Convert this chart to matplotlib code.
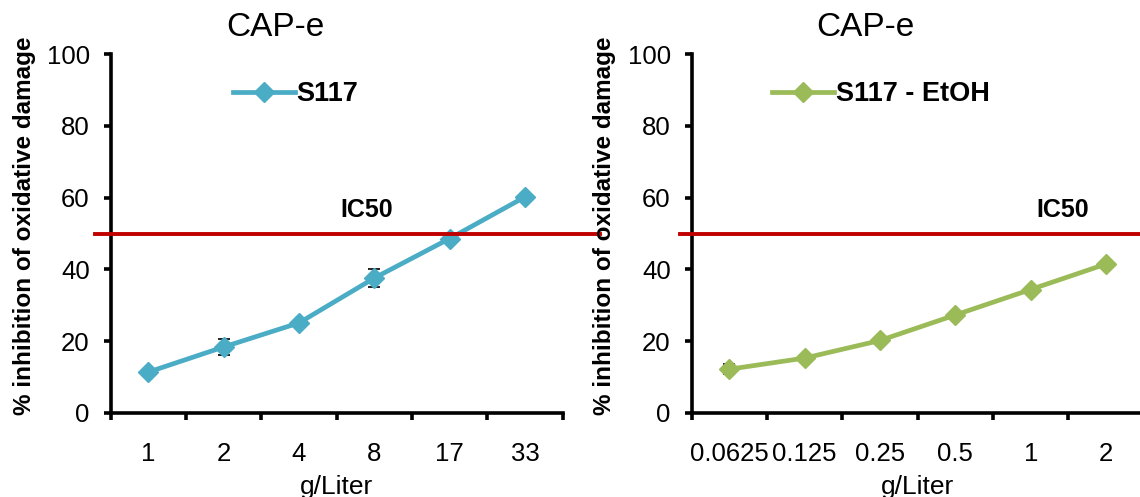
import numpy as np
import matplotlib.pyplot as plt

plt.rcParams["font.family"] = ["Liberation Sans", "DejaVu Sans"]

# data
left_labels = ["1", "2", "4", "8", "17", "33"]
left_values = [11.4, 18.4, 25.1, 37.6, 48.6, 60.2]
left_err = [0.8, 2.2, 0.8, 2.6, 0.8, 0.8]

right_labels = ["0.0625", "0.125", "0.25", "0.5", "1", "2"]
right_values = [12.2, 15.3, 20.2, 27.3, 34.4, 41.5]
right_err = [1.4, 0.6, 0.6, 0.6, 0.6, 0.6]

ic50 = 50
title = "CAP-e"
ylabel = "% inhibition of oxidative damage"
xlabel = "g/Liter"

W, H = 1140, 497
fig = plt.figure(figsize=(W / 100, H / 100), dpi=100)


def panel(left_px, labels, values, err, color, name, leg_x, ic_x, title_x, ylab_x, red_x0):
    ax = fig.add_axes([left_px / W, (H - 413) / H, 452 / W, 359 / H])
    x = np.arange(1, len(labels) + 1)
    ax.errorbar(x, values, yerr=err, fmt="none", ecolor="black", elinewidth=1.2,
                capsize=4, capthick=1.2, zorder=2)
    ax.plot(x, values, color=color, lw=3.4, marker="D", ms=10.5, label=name, zorder=3)
    ax.set_xlim(0.5, 6.5)
    ax.set_ylim(0, 100)
    ax.plot([red_x0, 6.5 + 0.5], [ic50, ic50], color="#C00000", lw=2.8, clip_on=False, zorder=4)
    for s in ["top", "right"]:
        ax.spines[s].set_visible(False)
    for s in ["left", "bottom"]:
        ax.spines[s].set_linewidth(2.6)
    ax.set_yticks([0, 20, 40, 60, 80, 100])
    ax.set_xticks(np.arange(0.5, 7, 1))
    ax.set_xticklabels([])
    ax.set_xticks(x, minor=True)
    ax.set_xticklabels(labels, minor=True)
    ax.tick_params(axis="y", which="major", direction="out", length=5, width=2.6,
                   labelsize=18.5, pad=10)
    ax.tick_params(axis="x", which="major", direction="out", length=5, width=2.6)
    ax.tick_params(axis="x", which="minor", length=0, labelsize=18.5, pad=21)
    ax.legend(loc="center left", bbox_to_anchor=(leg_x / W, 1 - 94 / H),
              bbox_transform=fig.transFigure, frameon=False, borderpad=0,
              borderaxespad=0, handlelength=2.3, handletextpad=0.05,
              prop={"size": 19.5, "weight": "bold"})
    ax.text(ic_x / W, 1 - 210 / H, "IC50", transform=fig.transFigure, ha="center",
            va="center", fontsize=18, fontweight="bold")
    fig.text(title_x / W, 1 - 28 / H, title, ha="center", va="center", fontsize=24)
    fig.text(ylab_x / W, 1 - 226 / H, ylabel, ha="center", va="center", rotation=90,
             fontsize=17.5, fontweight="bold")
    fig.text((left_px + 226) / W, 1 - 487 / H, xlabel, ha="center", va="center", fontsize=19)
    return ax


panel(110.7, left_labels, left_values, left_err, "#4BACC6", "S117",
      233, 367, 275, 25, 0.29)
panel(691.7, right_labels, right_values, right_err, "#9BBB59", "S117 - EtOH",
      772, 1063, 865, 605, 0.34)

fig.savefig("out.png", dpi=100)
